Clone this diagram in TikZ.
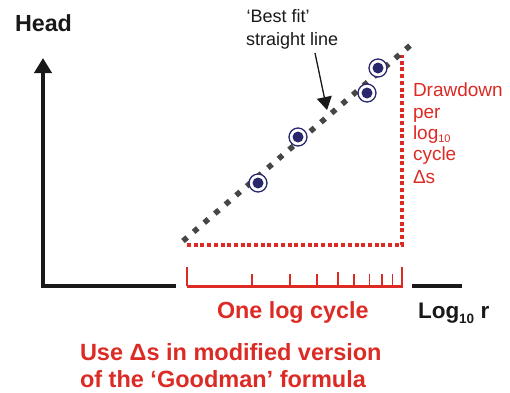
\documentclass[tikz,border=0pt]{standalone}
\usepackage{fontspec}
\setmainfont{Liberation Sans}
\usetikzlibrary{arrows.meta}
\definecolor{redc}{RGB}{220,42,36}
\definecolor{navy}{RGB}{42,40,108}
\definecolor{dotgray}{RGB}{70,70,70}
\tikzset{
  lbl/.style={anchor=base west, inner sep=0pt, outer sep=0pt},
  axisline/.style={line width=4pt, black!90},
  redaxis/.style={line width=3pt, redc},
  tick/.style={line width=1.2pt, redc},
  reddots/.style={line width=4pt, redc, dash pattern=on 4pt off 2.7pt},
  fitline/.style={line width=5.5pt, dotgray, dash pattern=on 5.5pt off 8.5pt},
  datapt/.style={circle, draw=navy, fill=white, line width=1.3pt, minimum size=18pt, inner sep=0pt},
  datadot/.style={circle, fill=navy, minimum size=11pt, inner sep=0pt},
}
\begin{document}
\begin{tikzpicture}[x=1pt, y=-1pt]
\useasboundingbox (0,0) rectangle (510,392);
% axes
\coordinate (orig) at (43,286);
\coordinate (ytop) at (43,58);
\coordinate (xl) at (41,286);
\coordinate (xm) at (176,286);
\coordinate (xr1) at (412,286);
\coordinate (xr2) at (462,286);
\draw[axisline, -{Triangle[length=15pt,width=17pt]}] (orig) -- (ytop);
\draw[axisline] (xl) -- (xm);
\draw[axisline] (xr1) -- (xr2);
% red log scale
\coordinate (ra) at (187,286);
\coordinate (rb) at (403,286);
\draw[redaxis] (ra) -- (rb);
\draw[tick] (187,286) -- (187,267);
\draw[tick] (402,286) -- (402,267);
\foreach \x in {252,290,317,354,369.5,382,392.5} { \draw[tick] (\x,286) -- (\x,274); }
\draw[tick] (338,286) -- (338,272);
% red dotted drawdown
\coordinate (d1) at (187,245);
\coordinate (d2) at (402,245);
\coordinate (d3) at (402,55);
\draw[reddots] (d1) -- (d2) -- (d3);
% best fit line
\coordinate (f1) at (183,241);
\coordinate (f2) at (413,43);
\draw[fitline] (f1) -- (f2);
% data points
\foreach \n/\p in {p1/{(258,183)}, p2/{(298,137)}, p3/{(367,93)}, p4/{(378,68)}} {
  \node[datapt] (\n) at \p {};
  \node[datadot] at \p {};
}
% labels
\node[lbl, font=\bfseries\fontsize{23.3}{27}\selectfont, black!90] (head) at (15,31.7) {Head};
\node[lbl, font=\fontsize{18}{22}\selectfont, black!90] (bf1) at (246.5,22.7) {‘Best fit’};
\node[lbl, font=\fontsize{18}{22}\selectfont, black!90] (bf2) at (246,45) {straight line};
\coordinate (arrs) at (315,53);
\coordinate (arre) at (327,110);
\draw[line width=1.3pt, black!90, -{Triangle[length=13pt,width=15pt]}] (arrs) -- (arre);
\begin{scope}[every node/.style={lbl, font=\fontsize{19}{22}\selectfont, text=redc}]
\node (dd1) at (413,96) {Drawdown};
\node (dd2) at (413,118) {per};
\node (dd3) at (413,139) {log\raisebox{-3.5pt}{\fontsize{11}{12}\selectfont 10}};
\node (dd4) at (413,160) {cycle};
\node (dd5) at (413,183) {Δs};
\end{scope}
\node[lbl, font=\bfseries\fontsize{23.3}{27}\selectfont, text=redc] (olc) at (217,318) {One log cycle};
\node[lbl, font=\bfseries\fontsize{22.5}{27}\selectfont, black!90] (logr) at (418,318) {Log\raisebox{-5pt}{\fontsize{13.5}{14}\selectfont 10} r};
\node[lbl, font=\bfseries\fontsize{23.5}{27}\selectfont, text=redc] (use1) at (80,360) {Use Δs in modified version};
\node[lbl, font=\bfseries\fontsize{23.5}{27}\selectfont, text=redc] (use2) at (80,387) {of the ‘Goodman’ formula};
\end{tikzpicture}
\end{document}
